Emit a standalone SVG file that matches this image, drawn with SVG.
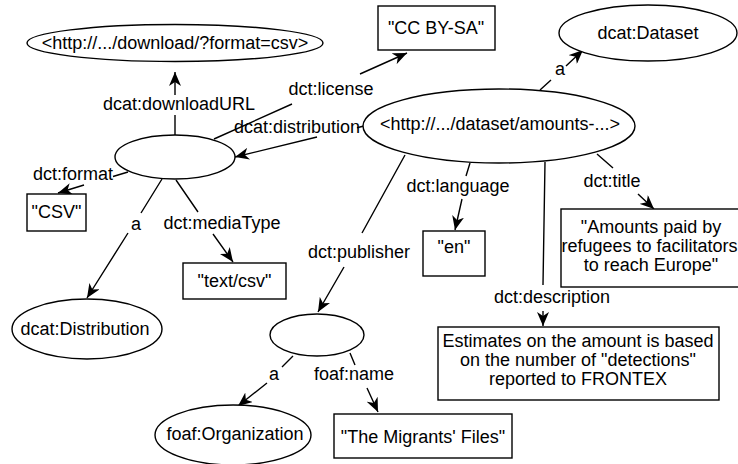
<svg xmlns="http://www.w3.org/2000/svg" width="738" height="464" viewBox="0 0 738 464">
<defs>
<marker id="arr" viewBox="0 0 14 12" refX="14" refY="6" markerWidth="14" markerHeight="12" markerUnits="userSpaceOnUse" orient="auto">
<path d="M0,0 L14,6 L0,12 L4,6 z" fill="#000"/>
</marker>
<style>
.n{fill:#fff;stroke:#000;stroke-width:1.4}
.t{font-family:"Liberation Sans",Arial,Helvetica,sans-serif;font-size:18px;fill:#000;text-anchor:middle}
.e{fill:none;stroke:#000;stroke-width:1.4;marker-end:url(#arr)}
</style>
</defs>
<rect width="738" height="464" fill="#fff"/>
<g id="connectors">
<path class="e" d="M175,135 L175,115 M175,95 L175,72"/>
<text class="t" x="179" y="110">dcat:downloadURL</text>
<path class="e" d="M214,139 L292,104 M360,74 L407,53"/>
<text class="t" x="331" y="95">dct:license</text>
<path class="e" d="M364,126 L357,127.7 M317,137 L235,157"/>
<text class="t" x="297" y="133">dcat:distribution</text>
<path class="e" d="M540,90 L551,80 M566,66 L583,50"/>
<text class="t" x="560" y="75">a</text>
<path class="e" d="M128,172 L113,176.5 M84,185 L58,193"/>
<text class="t" x="73" y="180">dct:format</text>
<path class="e" d="M162,179 L141,213 M128,233 L87,298"/>
<text class="t" x="136" y="230">a</text>
<path class="e" d="M176,180 L198,212 M213,234 L233,262"/>
<text class="t" x="222" y="229">dct:mediaType</text>
<path class="e" d="M405,155 L362,233 M344,267 L318,312"/>
<text class="t" x="359" y="258">dct:publisher</text>
<path class="e" d="M470,163 L466,176 M462,199 L455,230"/>
<text class="t" x="458" y="192">dct:language</text>
<path class="e" d="M545,162 L543,285 M543,311 L543,326"/>
<text class="t" x="552" y="303">dct:description</text>
<path class="e" d="M597,154 L613,168 M638,194 L654,209"/>
<text class="t" x="612" y="187">dct:title</text>
<path class="e" d="M293,356 L282,367 M267,383 L238,406"/>
<text class="t" x="274" y="380">a</text>
<path class="e" d="M350,353 L355,365 M367,388 L378,412"/>
<text class="t" x="354" y="380">foaf:name</text>
</g>
<g id="n-download"><ellipse class="n" cx="175" cy="43" rx="148" ry="18.5"/><text class="t" x="175" y="49">&lt;http://.../download/?format=csv&gt;</text></g>
<g id="n-license"><rect class="n" x="378" y="6" width="117" height="44"/><text class="t" x="436" y="34">"CC BY-SA"</text></g>
<g id="n-dataset-class"><ellipse class="n" cx="648" cy="33" rx="89" ry="28"/><text class="t" x="648" y="39">dcat:Dataset</text></g>
<g id="n-dataset"><ellipse class="n" cx="499" cy="126" rx="136" ry="37"/><text class="t" x="500" y="130">&lt;http://.../dataset/amounts-...&gt;</text></g>
<g id="n-distribution"><ellipse class="n" cx="175" cy="157" rx="60" ry="22"/></g>
<g id="n-csv"><rect class="n" x="27" y="194" width="59" height="37"/><text class="t" x="56.5" y="218">"CSV"</text></g>
<g id="n-mediatype"><rect class="n" x="183" y="263" width="103" height="36"/><text class="t" x="234.5" y="287">"text/csv"</text></g>
<g id="n-distribution-class"><ellipse class="n" cx="87" cy="329" rx="75" ry="30"/><text class="t" x="85" y="335">dcat:Distribution</text></g>
<g id="n-en"><rect class="n" x="423" y="231" width="62" height="45"/><text class="t" x="454" y="253">"en"</text></g>
<g id="n-title"><rect class="n" x="561" y="209" width="184" height="78"/><text class="t" x="651" y="233">"Amounts paid by</text><text class="t" x="649.5" y="252">refugees to facilitators</text><text class="t" x="651" y="271">to reach Europe"</text></g>
<g id="n-description"><rect class="n" x="438" y="327" width="281" height="73"/><text class="t" x="578" y="347">Estimates on the amount is based</text><text class="t" x="578" y="366">on the number of "detections"</text><text class="t" x="578" y="385">reported to FRONTEX</text></g>
<g id="n-publisher"><ellipse class="n" cx="317" cy="335" rx="47" ry="21"/></g>
<g id="n-organization"><ellipse class="n" cx="233" cy="435" rx="78" ry="30"/><text class="t" x="235" y="440">foaf:Organization</text></g>
<g id="n-name"><rect class="n" x="334" y="414" width="178" height="44"/><text class="t" x="423" y="443">"The Migrants' Files"</text></g>
</svg>
